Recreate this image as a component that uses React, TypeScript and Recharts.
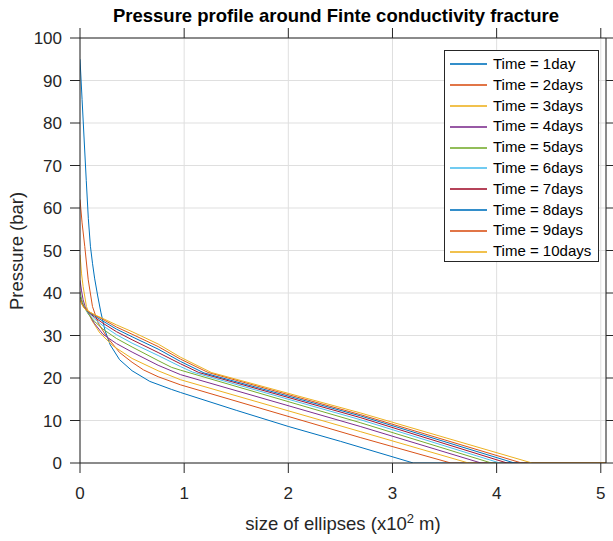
import { LineChart, Line, XAxis, YAxis, CartesianGrid } from "recharts";

type Pt = [number, number];

// pressure (bar) vs distance (x10^2 m)
const day1: Pt[] = [
  [0, 95], [0.02, 85.5], [0.04, 76], [0.06, 66.5], [0.08, 57.5], [0.1, 51], [0.12, 47],
  [0.14, 43.5], [0.17, 39.3], [0.2, 35.5], [0.24, 31.2], [0.29, 27.8], [0.38, 24.3],
  [0.5, 21.7], [0.67, 19.2], [0.88, 17.3], [0.964, 16.6], [1.5, 12.4], [2, 8.6],
  [2.5, 5.1], [3.2, 0], [5.05, 0],
];
const day2: Pt[] = [
  [0, 62], [0.02, 56.5], [0.046, 50.9], [0.079, 43.1], [0.12, 36.8], [0.175, 32.9],
  [0.254, 29.8], [0.38, 26.0], [0.5, 23.7], [0.61, 21.9], [0.75, 20.3], [0.964, 18.4],
  [2.69, 6.0], [3.56, 0], [5.05, 0],
];
const day3: Pt[] = [
  [0, 49], [0.015, 44.5], [0.03, 41.5], [0.062, 36.8], [0.11, 33.7], [0.19, 30.6],
  [0.32, 27.5], [0.5, 24.6], [0.75, 21.7], [0.964, 19.6], [2.69, 7.4], [3.73, 0], [5.05, 0],
];
const day4: Pt[] = [
  [0, 43], [0.015, 40.5], [0.03, 38.4], [0.05, 36.8], [0.079, 35.3], [0.14, 32.8],
  [0.22, 30.3], [0.35, 28.1], [0.5, 26.1], [0.75, 23.0], [0.964, 20.8], [2.69, 8.6],
  [3.85, 0], [5.05, 0],
];
const day5: Pt[] = [
  [0, 40.4], [0.015, 38.6], [0.03, 37.4], [0.05, 36.3], [0.08, 35.0], [0.14, 33.3],
  [0.22, 31.5], [0.35, 29.3], [0.5, 27.3], [0.75, 24.1], [0.88, 22.5], [0.964, 21.85],
  [2.69, 9.5], [3.95, 0], [5.05, 0],
];
const day6: Pt[] = [
  [0, 39.2], [0.015, 37.9], [0.03, 37.0], [0.05, 36.2], [0.08, 35.3], [0.14, 33.9],
  [0.22, 32.3], [0.35, 30.2], [0.5, 28.2], [0.75, 25.3], [0.964, 22.7], [1.08, 21.4],
  [2.69, 10.2], [4.03, 0], [5.05, 0],
];
const day7: Pt[] = [
  [0, 39.0], [0.015, 37.8], [0.03, 37.0], [0.05, 36.3], [0.08, 35.5], [0.14, 34.3],
  [0.22, 32.9], [0.35, 30.9], [0.5, 29.0], [0.75, 26.0], [0.964, 23.35], [1.14, 21.3],
  [2.69, 10.7], [4.1, 0], [5.05, 0],
];
const day8: Pt[] = [
  [0, 38.9], [0.015, 37.7], [0.03, 37.0], [0.05, 36.3], [0.08, 35.6], [0.14, 34.6],
  [0.22, 33.4], [0.35, 31.5], [0.5, 29.7], [0.75, 26.8], [0.964, 23.9], [1.19, 21.2],
  [2.69, 11.1], [4.17, 0], [5.05, 0],
];
const day9: Pt[] = [
  [0, 38.8], [0.015, 37.6], [0.03, 36.9], [0.05, 36.3], [0.08, 35.7], [0.14, 34.8],
  [0.22, 33.8], [0.35, 32.0], [0.5, 30.3], [0.75, 27.4], [0.964, 24.45], [1.23, 21.3],
  [2.69, 11.4], [4.24, 0], [5.05, 0],
];
const day10: Pt[] = [
  [0, 38.7], [0.015, 37.5], [0.03, 36.8], [0.05, 36.2], [0.08, 35.7], [0.14, 34.9],
  [0.22, 34.0], [0.35, 32.5], [0.5, 30.9], [0.75, 28.0], [0.964, 24.9], [1.26, 21.3],
  [2.69, 11.8], [4.34, 0], [5.05, 0],
];

const seriesNames = [
  "Time = 1day", "Time = 2days", "Time = 3days", "Time = 4days", "Time = 5days",
  "Time = 6days", "Time = 7days", "Time = 8days", "Time = 9days", "Time = 10days",
];
const seriesColors = [
  "#0072BD", "#D95319", "#EDB120", "#7E2F8E", "#77AC30",
  "#4DBEEE", "#A2142F", "#0072BD", "#D95319", "#EDB120",
];
const xTicks = [0, 1, 2, 3, 4, 5];
const yTicks = [0, 10, 20, 30, 40, 50, 60, 70, 80, 90, 100];

const profiles = [day1, day2, day3, day4, day5, day6, day7, day8, day9, day10];
const series = profiles.map((pts, i) => ({
  name: seriesNames[i],
  color: seriesColors[i],
  data: pts.map(([x, p]) => ({ x, p })),
}));

const FONT = "'Liberation Sans', Arial, Helvetica, sans-serif";
const INK = "#262626";
const TICK = 10;
const tickStyle = { fontSize: 17, fill: INK, fontFamily: FONT };

// mirror axes: tick marks only, no labels (MATLAB box with outward ticks)
const topTick = (p: any) => <line x1={p.x} x2={p.x} y1={p.y} y2={p.y - TICK} stroke={INK} />;
const rightTick = (p: any) => <line x1={p.x} x2={p.x + TICK} y1={p.y} y2={p.y} stroke={INK} />;

const titleLabel = () => (
  <text x={336} y={22} textAnchor="middle" fontSize={18.5} fontWeight="bold" fill="#000" fontFamily={FONT}>
    Pressure profile around Finte conductivity fracture
  </text>
);

const xLabel = () => (
  <text x={343} y={530} textAnchor="middle" fontSize={18.5} fill={INK} fontFamily={FONT}>
    size of ellipses (x10
    <tspan dy={-7} fontSize={13}>2</tspan>
    <tspan dy={7}> m)</tspan>
  </text>
);

const yLabel = () => (
  <text
    x={23}
    y={251}
    transform="rotate(-90, 23, 251)"
    textAnchor="middle"
    fontSize={18.5}
    fill={INK}
    fontFamily={FONT}
  >
    Pressure (bar)
  </text>
);

function LegendBox() {
  return (
    <div
      style={{
        position: "absolute",
        left: 444,
        top: 50,
        width: 155,
        height: 212,
        boxSizing: "border-box",
        border: `1px solid ${INK}`,
        background: "#fff",
        paddingTop: 3,
        fontFamily: FONT,
        fontSize: 15,
        color: "#000",
      }}
    >
      {series.map((s) => (
        <div key={s.name} style={{ height: 20.8, display: "flex", alignItems: "center" }}>
          <span
            style={{
              display: "inline-block",
              width: 37,
              height: 2,
              background: s.color,
              opacity: 0.8,
              marginLeft: 5,
              marginRight: 6,
              flex: "none",
            }}
          />
          <span style={{ lineHeight: "20.8px", whiteSpace: "nowrap" }}>{s.name}</span>
        </div>
      ))}
    </div>
  );
}

export default function App() {
  return (
    <div style={{ position: "absolute", left: 0, top: 0, width: 613, height: 541, background: "#fff" }}>
      <LineChart width={613} height={541} margin={{ top: 0, right: 6, bottom: 0, left: 0 }}>
        <CartesianGrid xAxisId="b" yAxisId="l" stroke="#dfdfdf" />
        <XAxis
          xAxisId="b"
          dataKey="x"
          type="number"
          domain={[0, 5.05]}
          ticks={xTicks}
          allowDataOverflow
          height={78}
          tickSize={TICK}
          tickMargin={14}
          stroke={INK}
          tick={tickStyle}
          label={xLabel}
        />
        <XAxis
          xAxisId="t"
          orientation="top"
          dataKey="x"
          type="number"
          domain={[0, 5.05]}
          ticks={xTicks}
          interval={0}
          allowDataOverflow
          height={38}
          tickLine={false}
          tickSize={0}
          tickMargin={0}
          stroke={INK}
          tick={topTick}
          label={titleLabel}
        />
        <YAxis
          yAxisId="l"
          type="number"
          domain={[0, 100]}
          ticks={yTicks}
          allowDataOverflow
          width={80}
          tickSize={TICK}
          tickMargin={8}
          stroke={INK}
          tick={tickStyle}
          label={yLabel}
        />
        <YAxis
          yAxisId="r"
          orientation="right"
          type="number"
          domain={[0, 100]}
          ticks={yTicks}
          interval={0}
          allowDataOverflow
          width={1}
          tickLine={false}
          tickSize={0}
          tickMargin={0}
          stroke={INK}
          tick={rightTick}
        />
        {/* invisible copy of the last profile so the mirror axes are bound to data */}
        <Line
          xAxisId="t"
          yAxisId="r"
          data={series[9].data}
          dataKey="p"
          stroke="none"
          dot={false}
          activeDot={false}
          legendType="none"
          isAnimationActive={false}
        />
        {series.map((s) => (
          <Line
            key={s.name}
            xAxisId="b"
            yAxisId="l"
            data={s.data}
            dataKey="p"
            name={s.name}
            type="linear"
            stroke={s.color}
            strokeWidth={1}
            dot={false}
            isAnimationActive={false}
          />
        ))}
      </LineChart>
      <LegendBox />
    </div>
  );
}
